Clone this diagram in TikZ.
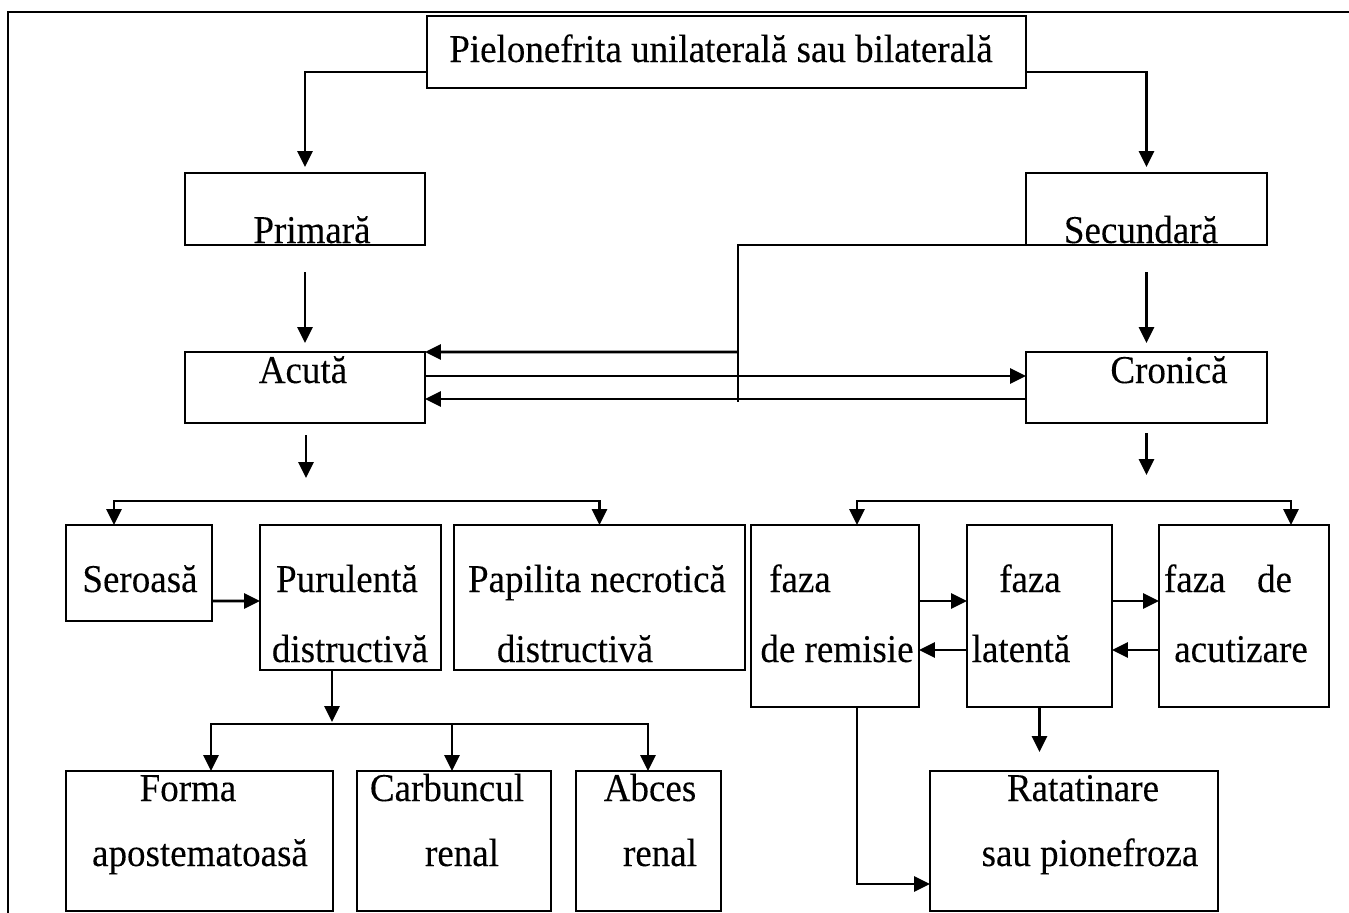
\documentclass[tikz,border=0pt]{standalone}
\usepackage{fontspec}
\setmainfont{Liberation Serif}[FakeStretch=0.94,FakeBold=0.15]
\usepackage{tikz}
\usetikzlibrary{arrows.meta,calc}
\tikzset{>={Triangle[length=9pt,width=8.5pt]}}

\begin{document}
\begin{tikzpicture}[x=0.2mm,y=-0.2mm,
    box/.style={draw,line width=1.2pt,inner sep=0pt,outer sep=0pt},
    txt/.style={anchor=base,inner sep=0pt,font=\fontsize{22.4}{26}\selectfont},
    arr/.style={->,line width=1.6pt},
    twoarr/.style={<->,line width=1.6pt}]
    \useasboundingbox (0,0) rectangle (1349,913);
    \draw[line width=1.4pt] (8,913) -- (8,12) -- (1349,12);
    % boxes
    \node[box,minimum width=11.98cm,minimum height=1.44cm] at (726.5,52) (pielo) {};
    \node[box,minimum width=4.8cm,minimum height=1.44cm] at (305,209) (primara) {};
    \node[box,minimum width=4.82cm,minimum height=1.44cm] at (1146.5,209) (secundara) {};
    \node[box,minimum width=4.8cm,minimum height=1.42cm] at (305,387.5) (acuta) {};
    \node[box,minimum width=4.82cm,minimum height=1.42cm] at (1146.5,387.5) (cronica) {};
    \node[box,minimum width=2.92cm,minimum height=1.92cm] at (139,573) (seroasa) {};
    \node[box,minimum width=3.62cm,minimum height=2.9cm] at (350.5,597.5) (purulenta) {};
    \node[box,minimum width=5.82cm,minimum height=2.9cm] at (599.5,597.5) (papilita) {};
    \node[box,minimum width=5.34cm,minimum height=2.8cm] at (199.5,841) (forma) {};
    \node[box,minimum width=3.88cm,minimum height=2.8cm] at (454,841) (carbuncul) {};
    \node[box,minimum width=2.9cm,minimum height=2.8cm] at (648.5,841) (abces) {};
    \node[box,minimum width=3.36cm,minimum height=3.64cm] at (835,616) (remisie) {};
    \node[box,minimum width=2.9cm,minimum height=3.64cm] at (1039.5,616) (latenta) {};
    \node[box,minimum width=3.4cm,minimum height=3.64cm] at (1244,616) (acutizare) {};
    \node[box,minimum width=5.76cm,minimum height=2.8cm] at (1074,841) (ratatinare) {};
    % texts
    \node[txt] at (721,62) (t-pielo) {Pielonefrita unilaterală sau bilaterală};
    \node[txt] at (312,243) (t-primara) {Primară};
    \node[txt] at (1141,243) (t-secundara) {Secundară};
    \node[txt] at (303,383) (t-acuta) {Acută};
    \node[txt] at (1169,383) (t-cronica) {Cronică};
    \node[txt] at (140,592) (t-seroasa) {Seroasă};
    \node[txt] at (347,592) (t-purulenta1) {Purulentă};
    \node[txt] at (350,662) (t-purulenta2) {distructivă};
    \node[txt] at (597,592) (t-papilita1) {Papilita necrotică};
    \node[txt] at (575,662) (t-papilita2) {distructivă};
    \node[txt] at (188,801) (t-forma1) {Forma};
    \node[txt] at (200,866) (t-forma2) {apostematoasă};
    \node[txt] at (447,801) (t-carbuncul1) {Carbuncul};
    \node[txt] at (462,866) (t-carbuncul2) {renal};
    \node[txt] at (650,801) (t-abces1) {Abces};
    \node[txt] at (660,866) (t-abces2) {renal};
    \node[txt] at (800,592) (t-remisie1) {faza};
    \node[txt] at (837,662) (t-remisie2) {de remisie};
    \node[txt] at (1030,592) (t-latenta1) {faza};
    \node[txt] at (1021,662) (t-latenta2) {latentă};
    \node[txt] at (1228,592) (t-acutizare1) {faza\hspace{0.8em}de};
    \node[txt] at (1241,662) (t-acutizare2) {acutizare};
    \node[txt] at (1083,801) (t-ratatinare1) {Ratatinare};
    \node[txt] at (1090,866) (t-ratatinare2) {sau pionefroza};
    % connectors
    \draw[arr] ($(pielo.west)+(0,20)$) -| ($(primara.north)+(0,-6)$);
    \draw[arr] ($(pielo.east)+(0,20)$) -| ($(secundara.north)+(0,-6)$);
    \draw[arr] ($(primara.south)+(0,27)$) -- ($(acuta.north)+(0,-9)$);
    \draw[arr] ($(secundara.south)+(0,27)$) -- ($(cronica.north)+(0,-9)$);
    \coordinate (junction) at (738,352);
    \draw[line width=1.2pt] (secundara.south west) -| ($(junction)+(0,50)$);
    \draw[arr] (junction) -- (acuta.north east);
    \draw[arr] ($(acuta.east)+(0,-11.5)$) -- ($(cronica.west)+(0,-11.5)$);
    \draw[arr] ($(cronica.west)+(0,11.5)$) -- ($(acuta.east)+(0,11.5)$);
    \draw[arr] ($(acuta.south)+(1,12)$) -- ($(acuta.south)+(1,55)$);
    \draw[arr] ($(cronica.south)+(0,10)$) -- ($(cronica.south)+(0,52)$);
    \draw[twoarr] ($(seroasa.north)+(-25,0)$) -- ($(seroasa.north)+(-25,-24)$) -| (papilita.north);
    \draw[twoarr] ($(remisie.north)+(22,0)$) -- ($(remisie.north)+(22,-24)$) -| ($(acutizare.north)+(47,0)$);
    \draw[arr] ($(seroasa.east)+(0,28)$) -- ($(purulenta.west)+(0,3.5)$);
    \draw[arr] ($(purulenta.south)+(-18.5,0)$) -- ($(purulenta.south)+(-18.5,52)$);
    \draw[twoarr] ($(forma.north)+(11.5,0)$) -- ($(forma.north)+(11.5,-47)$) -| ($(abces.north)+(-0.5,0)$);
    \draw[arr] ($(carbuncul.north)+(-2,-47)$) -- ($(carbuncul.north)+(-2,0)$);
    \draw[arr] ($(remisie.east)+(0,-15)$) -- ($(latenta.west)+(0,-15)$);
    \draw[arr] ($(latenta.east)+(0,-15)$) -- ($(acutizare.west)+(0,-15)$);
    \draw[arr] ($(latenta.west)+(0,34)$) -- ($(remisie.east)+(0,34)$);
    \draw[arr] ($(acutizare.west)+(0,34)$) -- ($(latenta.east)+(0,34)$);
    \draw[arr] (latenta.south) -- ($(latenta.south)+(0,45)$);
    \draw[arr] ($(remisie.south)+(22,0)$) |- ($(ratatinare.west)+(0,43)$);
\end{tikzpicture}
\end{document}
